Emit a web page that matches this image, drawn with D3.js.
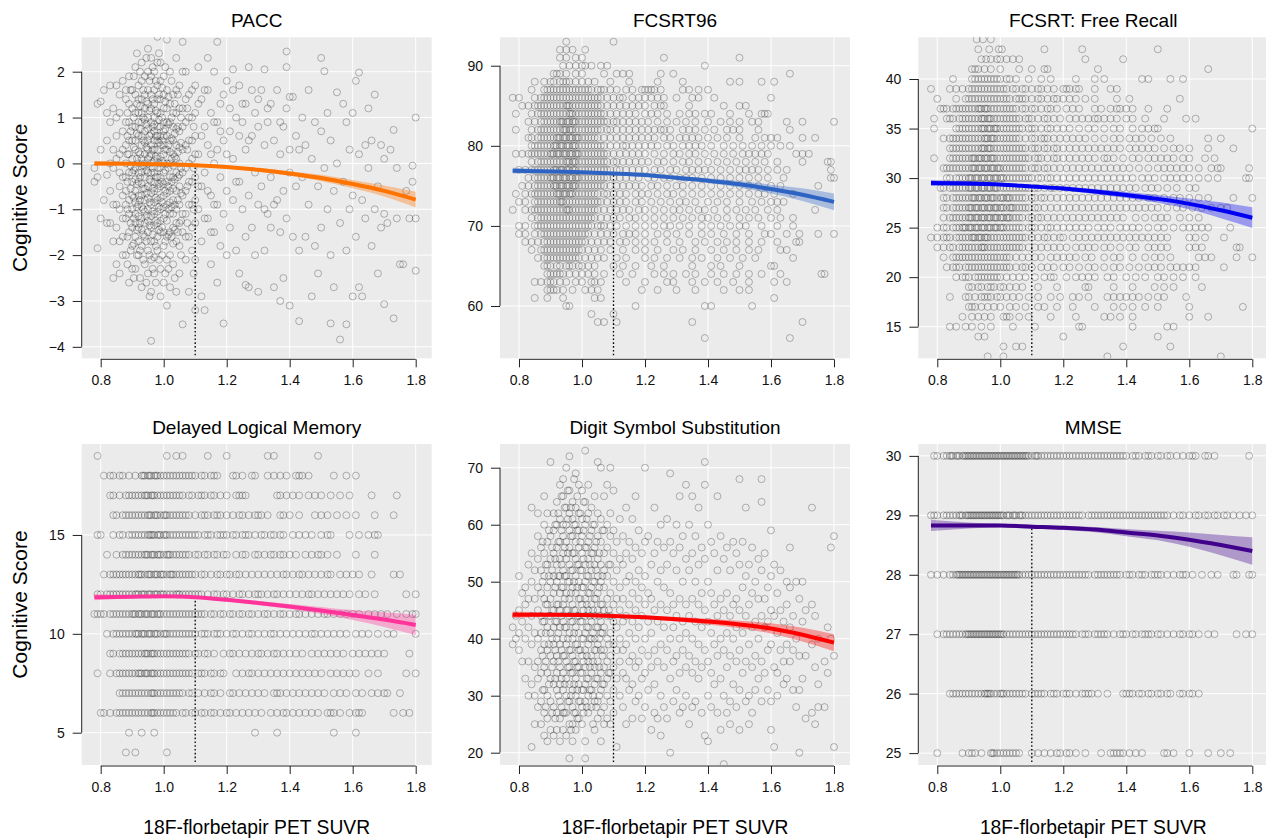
<!DOCTYPE html>
<html>
<head>
<meta charset="utf-8">
<script src="https://cdn.jsdelivr.net/npm/d3@7"></script>
<style>
  body { margin: 0; background: #fff; }
  svg { display: block; font-family: "Liberation Sans", Arial, sans-serif; }
</style>
</head>
<body>
<div id="chart"></div>
<script>
// shared x values
const xTicks = [0.8, 1.0, 1.2, 1.4, 1.6, 1.8];
const cutoff = 1.1;
const fitX = [0.78, 0.9, 1.0, 1.1, 1.2, 1.3, 1.4, 1.5, 1.6, 1.7, 1.8];

const titles = ["PACC", "FCSRT96", "FCSRT: Free Recall", "Delayed Logical Memory", "Digit Symbol Substitution", "MMSE"];

// ---- PACC: [SUVR, [scores]] ----
const paccPoints = [
  [0.78, [-0.4, -0.1]], [0.79, [1.3, -0.3, -1.85]], [0.80, [1.35, 0.3, -1.2]], [0.81, [1.6, -0.8]],
  [0.82, [0.5, -0.25, -1.3, 1.1]], [0.83, [0.9, -0.6, -1.3, 1.7, 0.0]], [0.84, [1.2, 0.3, -0.1, -1.7, -2.5, -0.9]],
  [0.85, [1.7, 0.6, -0.9, -2.2, -1.4, 0.1, 1.0]], [0.86, [1.1, 0.2, -0.5, -1.0, -2.4, 1.5, -0.2, -1.7]],
  [0.87, [1.8, 0.7, -0.3, -0.7, -1.6, 0.3, -1.2, -2.0]], [0.88, [1.4, 0.4, 0.0, -0.6, -1.2, -2.0, 0.9, -0.3, -0.9, 1.6]],
  [0.885, [1.1, 0.6, 0.2, -0.4, -1.0, -1.6, -2.2]],
  [0.89, [1.9, 0.9, -0.2, -0.8, -1.5, -2.6, 0.5, 0.2, -1.1, 1.3]],
  [0.895, [1.6, 0.7, -0.05, -0.55, -1.3, -1.9]],
  [0.90, [1.2, 0.5, 0.1, -0.4, -1.0, -1.8, 0.8, -0.2, -0.7, -1.4, 1.6, -2.3]],
  [0.905, [1.9, 1.0, 0.35, -0.15, -0.75, -1.2, -1.75, -2.5]],
  [0.91, [2.1, 1.5, 0.8, 0.3, -0.1, -0.6, -1.1, -1.6, -2.3, 1.1, 0.5, -0.35, -0.85, -1.3]],
  [0.915, [1.3, 0.65, 0.1, -0.45, -0.95, -1.45, -2.0, 2.4]],
  [0.92, [1.7, 1.1, 0.6, 0.0, -0.4, -0.9, -1.4, -2.0, 1.4, 0.25, -0.2, -0.7, -1.15, -1.7, 0.9]],
  [0.925, [2.0, 1.25, 0.75, 0.2, -0.3, -0.8, -1.3, -1.9, -2.5]],
  [0.93, [2.2, 1.4, 0.9, 0.4, -0.2, -0.7, -1.2, -1.8, -2.7, 1.1, 0.6, 0.1, -0.45, -0.95, -1.45, 1.8]],
  [0.935, [1.6, 1.0, 0.5, -0.05, -0.55, -1.0, -1.55, -2.1]],
  [0.94, [1.9, 1.2, 0.7, 0.2, -0.3, -0.8, -1.3, -2.2, 1.5, 0.95, 0.45, -0.05, -0.55, -1.05, -1.6, 0.0]],
  [0.945, [2.3, 1.35, 0.85, 0.35, -0.15, -0.65, -1.15, -1.7, -2.6]],
  [0.95, [2.5, 1.6, 1.0, 0.5, 0.1, -0.5, -1.0, -1.5, -1.9, 1.3, 0.75, 0.3, -0.2, -0.75, -1.25, -2.4, 2.0]],
  [0.955, [1.8, 1.15, 0.6, 0.15, -0.35, -0.85, -1.35, -2.0, -2.9]],
  [0.96, [2.3, 1.5, 0.9, 0.4, 0.0, -0.4, -0.9, -1.4, -2.1, -2.8, -3.87, 1.2, 0.65, 0.2, -0.2, -0.65, -1.15, -1.7, 1.9]],
  [0.965, [2.1, 1.4, 0.8, 0.3, -0.1, -0.55, -1.05, -1.55, -2.3]],
  [0.97, [2.0, 1.3, 0.7, 0.3, -0.2, -0.6, -1.1, -1.7, -2.4, 1.6, 1.0, 0.5, 0.05, -0.4, -0.85, -1.35, -2.05, 0.85]],
  [0.975, [1.8, 1.15, 0.6, 0.15, -0.3, -0.75, -1.25, -1.8, -2.6]],
  [0.98, [2.76, 1.7, 1.1, 0.5, 0.1, -0.3, -0.8, -1.3, -1.9, 1.4, 0.8, 0.3, -0.1, -0.55, -1.05, -1.6, 2.2, 0.6]],
  [0.985, [2.4, 1.5, 0.95, 0.45, 0.0, -0.45, -0.95, -1.45, -2.1]],
  [0.99, [2.2, 1.4, 0.8, 0.4, -0.1, -0.5, -1.0, -1.5, -2.3, -2.9, 1.1, 0.6, 0.15, -0.3, -0.75, -1.25, 1.8]],
  [0.995, [1.65, 1.0, 0.5, 0.05, -0.4, -0.85, -1.4, -2.0]],
  [1.00, [1.9, 1.2, 0.6, 0.2, -0.2, -0.7, -1.2, -1.8, -2.6, 1.5, 0.9, 0.4, 0.0, -0.45, -0.95, -1.5, 0.7]],
  [1.005, [2.1, 1.35, 0.75, 0.3, -0.15, -0.6, -1.1, -1.7, -2.4]],
  [1.01, [2.7, 1.6, 0.9, 0.3, -0.4, -0.9, -1.6, -3.1, 1.2, 0.6, 0.0, -0.65, -1.25, -2.1]],
  [1.015, [1.45, 0.85, 0.4, -0.1, -0.5, -1.0, -1.55, -2.3]],
  [1.02, [2.0, 1.3, 0.5, 0.0, -0.6, -1.1, -2.0, -2.7, 0.9, 0.25, -0.3, -0.85, -1.5]],
  [1.025, [1.8, 1.0, 0.55, 0.1, -0.4, -0.95, -1.6]],
  [1.03, [1.5, 0.8, 0.2, -0.3, -0.8, -1.4, -2.2, 1.1, 0.5, -0.05, -0.55, -1.1, -1.75]],
  [1.035, [1.3, 0.65, 0.15, -0.35, -0.9, -1.45, -2.5]],
  [1.04, [2.3, 1.1, 0.4, -0.2, -1.0, -1.7, -2.8, 0.75, 0.1, -0.6, -1.3, 1.6]],
  [1.045, [1.5, 0.8, 0.25, -0.3, -0.8, -1.5]],
  [1.05, [1.7, 0.7, 0.0, -0.5, -1.3, -2.4, 1.2, 0.35, -0.25, -0.9, -1.8]],
  [1.055, [1.0, 0.45, -0.1, -0.65, -1.25, -2.0]],
  [1.06, [2.65, 1.2, 0.3, -0.7, -1.5, -3.51, 0.8, -0.2, -1.1, 2.0]],
  [1.07, [2.0, 0.9, -0.1, -1.1, -2.1, 1.4, 0.4, -0.6, -1.6]], [1.075, [1.2, 0.3, -0.5, -1.3]],
  [1.08, [1.5, 0.5, -0.4, -1.6, -2.8, 1.0, 0.0, -0.9]],
  [1.09, [1.0, 0.1, -0.9, -1.9, 1.6, 0.5, -0.4, -1.4]], [1.095, [0.8, -0.1, -1.0, -2.4]],
  [1.10, [1.7, 0.6, -0.3, -1.3, -3.2, 1.1, 0.2, -0.8, -2.1]],
  [1.11, [2.1, 0.2, -1.0, 1.3, -0.5]], [1.12, [1.4, -0.5, -1.7, -2.9, 0.6]], [1.13, [0.8, -0.2, -3.2, 1.6, -1.2]],
  [1.14, [1.6, 0.4, -1.2, -0.6, 2.3]], [1.15, [1.1, -0.7, -2.2, 0.2, -1.5]], [1.16, [2.0, 0.0, -1.5, 0.9, -0.9]],
  [1.17, [2.65, 0.9, -0.9, -2.6, 0.3]], [1.18, [1.3, -0.3, -1.8, 0.7]], [1.19, [0.5, -1.1, -3.49, 1.5]],
  [1.20, [1.8, -0.6, -2.0, 0.2]], [1.21, [0.7, -1.4, 1.2]], [1.22, [1.6, 0.1, -0.8, 2.05]], [1.23, [1.0, -1.9, -0.4]],
  [1.24, [1.7, -0.4, -2.4, 0.6]], [1.25, [0.9, -1.0, 1.3]], [1.26, [1.3, 0.3, -1.6, -2.65]], [1.27, [2.1, -0.7, -2.7, 0.5]],
  [1.28, [0.6, -1.4, 1.6]], [1.29, [1.1, -0.2, -2.0]], [1.30, [0.8, -0.9, -2.8, 1.4]], [1.31, [1.6, -0.5]],
  [1.32, [2.05, 0.4, -1.9, -1.0]], [1.33, [0.9, -1.1, 1.2]], [1.34, [1.3, -0.3, -1.4]], [1.35, [0.5, -2.7, -0.9]],
  [1.36, [1.6, -0.8]], [1.37, [0.2, -1.5, -3.0, 0.9]], [1.38, [0.8, -0.6, -2.5]], [1.39, [2.44, 1.2, -1.2, 2.1]],
  [1.40, [0.3, -0.2, -3.1, 1.45]], [1.41, [1.45, -1.6]], [1.42, [0.6, -0.5]], [1.43, [-1.9, -3.44, 0.3]],
  [1.44, [1.0, -0.3]], [1.45, [0.4, -1.6]], [1.46, [1.6, -0.9]], [1.47, [0.1, -2.9]], [1.48, [0.9, -1.8]],
  [1.49, [-0.5, -2.4]], [1.50, [2.3, 0.7, -1.4]], [1.51, [2.01, -0.1]], [1.52, [1.1, -1.0]], [1.53, [0.5, -2.0, -3.49]],
  [1.54, [-0.6, -2.7]], [1.55, [1.55, 0.0]], [1.56, [-1.3, -3.84]], [1.57, [1.3, -0.4]], [1.58, [0.9, -1.9, -3.51]],
  [1.59, [0.3, -1.0]], [1.60, [1.1, -0.7, -2.9]], [1.61, [1.8, -1.6]], [1.62, [1.98, 0.2, -2.7]], [1.63, [-0.8, -2.9]],
  [1.64, [0.4, -1.2]], [1.65, [1.2, -0.1]], [1.66, [0.5, -1.8]], [1.67, [1.5, -1.0]], [1.68, [-0.5, -2.4]],
  [1.69, [0.4, -1.4]], [1.70, [0.1, -1.1, -3.07]], [1.71, [-1.3]], [1.72, [0.3]], [1.73, [0.73, -3.38]],
  [1.74, [-0.1, -1.2]], [1.75, [-2.2]], [1.76, [-2.2]], [1.77, [-0.6]], [1.78, [-1.2]], [1.79, [-0.05, -0.4]],
  [1.80, [1.0, -1.2, -2.34]]
];
const paccFit = [0.0, -0.01, -0.02, -0.04, -0.08, -0.14, -0.22, -0.32, -0.45, -0.6, -0.79];
const paccSe = [0.05, 0.03, 0.02, 0.03, 0.03, 0.04, 0.05, 0.07, 0.09, 0.12, 0.17];
const paccTicks = [-4, -3, -2, -1, 0, 1, 2];

// ---- FCSRT96: [score, [SUVRs]] ----
const fcsrt96Rows = [
  [93, [0.95, 1.1]], [92, [0.93, 0.95, 0.97, 1.01]], [91, [0.93, 0.95, 0.98, 1.0, 1.26, 1.5]],
  [90, [0.94, 0.96, 0.98, 1.0, 1.01, 1.03, 1.06, 1.08, 1.39]],
  [89, [0.91, 0.92, 0.93, 0.95, 0.98, 1.0, 1.07, 1.11, 1.13, 1.15, 1.25, 1.29, 1.66]],
  [88, [0.85, 0.88, 0.9, 0.91, 0.93, 0.94, 0.95, 0.96, 0.98, 1.0, 1.02, 1.04, 1.09, 1.15, 1.24, 1.32, 1.47, 1.5, 1.57, 1.61]],
  [87, [0.84, 0.88, 0.89, 0.9, 0.91, 0.92, 0.93, 0.94, 0.95, 0.96, 0.97, 0.98, 0.99, 1.0, 1.01, 1.02, 1.03, 1.05, 1.06, 1.07, 1.09, 1.11, 1.14, 1.16, 1.19, 1.2, 1.21, 1.22, 1.23, 1.25, 1.32, 1.34, 1.37, 1.4]],
  [86, [0.78, 0.8, 0.85, 0.87, 0.88, 0.89, 0.9, 0.91, 0.92, 0.93, 0.94, 0.95, 0.96, 0.97, 0.98, 0.99, 1.0, 1.01, 1.02, 1.03, 1.04, 1.05, 1.06, 1.08, 1.1, 1.12, 1.13, 1.16, 1.18, 1.2, 1.22, 1.24, 1.26, 1.3, 1.35, 1.37, 1.42, 1.6]],
  [85, [0.81, 0.83, 0.85, 0.86, 0.87, 0.88, 0.89, 0.9, 0.91, 0.92, 0.93, 0.94, 0.95, 0.955, 0.96, 0.97, 0.98, 0.99, 1.0, 1.01, 1.02, 1.03, 1.04, 1.05, 1.06, 1.08, 1.1, 1.12, 1.14, 1.16, 1.18, 1.2, 1.23, 1.25, 1.26, 1.34, 1.45, 1.5, 1.52]],
  [84, [0.79, 0.84, 0.86, 0.87, 0.88, 0.89, 0.9, 0.91, 0.92, 0.93, 0.94, 0.95, 0.96, 0.965, 0.97, 0.98, 0.99, 1.0, 1.01, 1.02, 1.03, 1.04, 1.05, 1.06, 1.07, 1.09, 1.11, 1.13, 1.15, 1.17, 1.2, 1.22, 1.24, 1.27, 1.31, 1.34, 1.36, 1.39, 1.41, 1.47, 1.53, 1.57, 1.58, 1.59]],
  [83, [0.83, 0.85, 0.87, 0.88, 0.89, 0.9, 0.91, 0.92, 0.93, 0.935, 0.94, 0.95, 0.955, 0.96, 0.97, 0.975, 0.98, 0.99, 1.0, 1.01, 1.02, 1.03, 1.04, 1.05, 1.06, 1.07, 1.08, 1.1, 1.11, 1.13, 1.15, 1.17, 1.19, 1.21, 1.24, 1.27, 1.3, 1.33, 1.36, 1.4, 1.44, 1.47, 1.5, 1.54, 1.56, 1.65, 1.7, 1.8]],
  [82, [0.79, 0.84, 0.86, 0.87, 0.88, 0.89, 0.9, 0.91, 0.92, 0.93, 0.94, 0.945, 0.95, 0.96, 0.965, 0.97, 0.98, 0.99, 1.0, 1.01, 1.02, 1.03, 1.04, 1.05, 1.06, 1.08, 1.09, 1.11, 1.13, 1.15, 1.17, 1.19, 1.21, 1.23, 1.25, 1.26, 1.28, 1.32, 1.34, 1.36, 1.39, 1.42, 1.46, 1.48, 1.5, 1.56, 1.66]],
  [81, [0.83, 0.84, 0.86, 0.87, 0.88, 0.89, 0.9, 0.91, 0.92, 0.925, 0.93, 0.94, 0.945, 0.95, 0.96, 0.965, 0.97, 0.98, 0.985, 0.99, 1.0, 1.01, 1.02, 1.03, 1.04, 1.05, 1.07, 1.09, 1.11, 1.13, 1.15, 1.17, 1.19, 1.21, 1.23, 1.26, 1.28, 1.31, 1.33, 1.35, 1.37, 1.4, 1.43, 1.46, 1.5, 1.55, 1.58, 1.6, 1.62, 1.7, 1.74]],
  [80, [0.84, 0.85, 0.86, 0.87, 0.88, 0.89, 0.9, 0.91, 0.915, 0.92, 0.93, 0.935, 0.94, 0.95, 0.955, 0.96, 0.97, 0.975, 0.98, 0.99, 1.0, 1.01, 1.02, 1.03, 1.04, 1.05, 1.06, 1.07, 1.09, 1.11, 1.13, 1.14, 1.16, 1.18, 1.2, 1.22, 1.24, 1.27, 1.29, 1.32, 1.34, 1.36, 1.38, 1.41, 1.45, 1.48, 1.51, 1.54, 1.57, 1.6, 1.63, 1.66]],
  [79, [0.79, 0.81, 0.83, 0.84, 0.85, 0.86, 0.87, 0.88, 0.89, 0.9, 0.905, 0.91, 0.92, 0.925, 0.93, 0.94, 0.945, 0.95, 0.96, 0.965, 0.97, 0.98, 0.985, 0.99, 1.0, 1.01, 1.02, 1.03, 1.04, 1.05, 1.06, 1.07, 1.08, 1.1, 1.12, 1.14, 1.16, 1.18, 1.2, 1.23, 1.26, 1.29, 1.31, 1.34, 1.36, 1.39, 1.42, 1.45, 1.48, 1.51, 1.53, 1.55, 1.57, 1.59, 1.68, 1.7, 1.72]],
  [78, [0.84, 0.86, 0.87, 0.88, 0.89, 0.9, 0.91, 0.92, 0.93, 0.94, 0.95, 0.955, 0.96, 0.97, 0.975, 0.98, 0.99, 1.0, 1.01, 1.02, 1.03, 1.04, 1.05, 1.06, 1.07, 1.08, 1.1, 1.11, 1.13, 1.15, 1.17, 1.19, 1.21, 1.24, 1.26, 1.29, 1.32, 1.34, 1.37, 1.4, 1.43, 1.46, 1.49, 1.52, 1.55, 1.58, 1.62, 1.7, 1.78, 1.79]],
  [77, [0.8, 0.82, 0.84, 0.85, 0.86, 0.87, 0.88, 0.89, 0.9, 0.91, 0.915, 0.92, 0.93, 0.935, 0.94, 0.95, 0.955, 0.96, 0.97, 0.975, 0.98, 0.99, 1.0, 1.01, 1.02, 1.03, 1.04, 1.05, 1.06, 1.07, 1.08, 1.09, 1.11, 1.12, 1.14, 1.16, 1.18, 1.2, 1.23, 1.25, 1.28, 1.3, 1.33, 1.35, 1.37, 1.39, 1.41, 1.44, 1.47, 1.5, 1.52, 1.54, 1.56, 1.59, 1.62, 1.65, 1.79]],
  [76, [0.83, 0.85, 0.86, 0.87, 0.88, 0.89, 0.9, 0.905, 0.91, 0.92, 0.925, 0.93, 0.94, 0.945, 0.95, 0.96, 0.965, 0.97, 0.98, 0.985, 0.99, 1.0, 1.01, 1.02, 1.03, 1.04, 1.05, 1.06, 1.07, 1.08, 1.1, 1.12, 1.14, 1.16, 1.18, 1.21, 1.23, 1.26, 1.28, 1.31, 1.33, 1.35, 1.38, 1.41, 1.44, 1.47, 1.5, 1.53, 1.56, 1.59, 1.64, 1.79, 1.8]],
  [75, [0.81, 0.83, 0.85, 0.86, 0.87, 0.88, 0.89, 0.9, 0.91, 0.915, 0.92, 0.93, 0.935, 0.94, 0.95, 0.955, 0.96, 0.97, 0.975, 0.98, 0.99, 1.0, 1.01, 1.02, 1.03, 1.04, 1.05, 1.06, 1.07, 1.09, 1.11, 1.13, 1.15, 1.17, 1.19, 1.22, 1.24, 1.27, 1.3, 1.32, 1.35, 1.38, 1.41, 1.44, 1.47, 1.5, 1.53, 1.56, 1.6, 1.63, 1.75]],
  [74, [0.79, 0.82, 0.84, 0.85, 0.86, 0.87, 0.88, 0.89, 0.9, 0.91, 0.92, 0.925, 0.93, 0.94, 0.945, 0.95, 0.96, 0.965, 0.97, 0.98, 0.99, 1.0, 1.01, 1.02, 1.03, 1.04, 1.05, 1.07, 1.08, 1.1, 1.12, 1.14, 1.17, 1.19, 1.21, 1.24, 1.27, 1.29, 1.32, 1.35, 1.38, 1.41, 1.44, 1.47, 1.5, 1.53, 1.56, 1.58, 1.61, 1.67]],
  [73, [0.8, 0.82, 0.85, 0.86, 0.87, 0.88, 0.89, 0.9, 0.91, 0.92, 0.93, 0.935, 0.94, 0.95, 0.96, 0.97, 0.98, 0.99, 1.0, 1.01, 1.02, 1.03, 1.04, 1.05, 1.06, 1.08, 1.1, 1.12, 1.14, 1.17, 1.19, 1.22, 1.25, 1.28, 1.31, 1.33, 1.36, 1.4, 1.43, 1.46, 1.5, 1.54, 1.57, 1.6, 1.62, 1.64]],
  [72, [0.78, 0.82, 0.84, 0.85, 0.86, 0.87, 0.88, 0.89, 0.9, 0.91, 0.92, 0.93, 0.94, 0.95, 0.955, 0.96, 0.97, 0.98, 0.99, 1.0, 1.01, 1.02, 1.03, 1.04, 1.05, 1.07, 1.09, 1.11, 1.13, 1.15, 1.18, 1.2, 1.23, 1.26, 1.29, 1.31, 1.34, 1.37, 1.39, 1.42, 1.46, 1.49, 1.52, 1.55, 1.59, 1.62, 1.74]],
  [71, [0.84, 0.86, 0.87, 0.88, 0.89, 0.9, 0.91, 0.92, 0.93, 0.94, 0.95, 0.96, 0.97, 0.98, 0.99, 1.0, 1.01, 1.02, 1.03, 1.04, 1.06, 1.08, 1.1, 1.12, 1.15, 1.17, 1.2, 1.23, 1.26, 1.29, 1.32, 1.35, 1.38, 1.4, 1.43, 1.46, 1.5, 1.53, 1.56, 1.6, 1.63, 1.67]],
  [70, [0.8, 0.82, 0.85, 0.86, 0.87, 0.88, 0.89, 0.9, 0.91, 0.92, 0.93, 0.94, 0.95, 0.96, 0.97, 0.98, 0.99, 1.0, 1.01, 1.02, 1.03, 1.05, 1.06, 1.07, 1.09, 1.11, 1.14, 1.17, 1.2, 1.23, 1.26, 1.28, 1.31, 1.34, 1.38, 1.41, 1.44, 1.47, 1.5, 1.52, 1.57, 1.62, 1.67]],
  [69, [0.8, 0.82, 0.85, 0.87, 0.88, 0.89, 0.9, 0.91, 0.92, 0.93, 0.94, 0.95, 0.96, 0.97, 0.98, 0.99, 1.0, 1.01, 1.02, 1.04, 1.06, 1.08, 1.1, 1.13, 1.15, 1.17, 1.2, 1.24, 1.27, 1.3, 1.34, 1.38, 1.41, 1.45, 1.49, 1.53, 1.58, 1.6, 1.65, 1.69, 1.75, 1.8]],
  [68, [0.82, 0.84, 0.86, 0.88, 0.89, 0.9, 0.91, 0.92, 0.93, 0.94, 0.95, 0.96, 0.97, 0.98, 0.99, 1.0, 1.01, 1.03, 1.05, 1.07, 1.09, 1.12, 1.14, 1.17, 1.2, 1.23, 1.27, 1.31, 1.36, 1.39, 1.43, 1.46, 1.49, 1.53, 1.57, 1.62, 1.68, 1.69]],
  [67, [0.84, 0.87, 0.88, 0.89, 0.9, 0.91, 0.92, 0.93, 0.94, 0.95, 0.96, 0.97, 0.98, 0.99, 1.0, 1.02, 1.04, 1.06, 1.09, 1.13, 1.17, 1.2, 1.24, 1.29, 1.32, 1.36, 1.41, 1.45, 1.49, 1.53, 1.56, 1.63, 1.65]],
  [66, [0.86, 0.88, 0.89, 0.9, 0.91, 0.92, 0.93, 0.94, 0.95, 0.96, 0.97, 0.98, 0.99, 1.01, 1.03, 1.05, 1.07, 1.11, 1.14, 1.2, 1.23, 1.27, 1.31, 1.35, 1.38, 1.43, 1.47, 1.51, 1.55, 1.67]],
  [65, [0.88, 0.89, 0.9, 0.92, 0.93, 0.95, 0.96, 0.97, 0.99, 1.0, 1.02, 1.04, 1.1, 1.13, 1.17, 1.22, 1.26, 1.35, 1.41, 1.44, 1.5, 1.6, 1.61]],
  [64, [0.89, 0.9, 0.91, 0.92, 0.93, 0.94, 0.96, 0.98, 1.0, 1.02, 1.04, 1.07, 1.12, 1.16, 1.23, 1.26, 1.29, 1.33, 1.36, 1.41, 1.45, 1.49, 1.53, 1.57, 1.63, 1.76, 1.77]],
  [63, [0.85, 0.87, 0.89, 0.9, 0.91, 0.93, 0.95, 0.98, 1.0, 1.03, 1.04, 1.06, 1.14, 1.2, 1.27, 1.29, 1.35, 1.39, 1.43, 1.48, 1.53, 1.61, 1.65]],
  [62, [0.89, 0.9, 0.91, 0.92, 0.94, 0.97, 1.01, 1.03, 1.05, 1.19, 1.24, 1.3, 1.36, 1.45, 1.5, 1.53]],
  [61, [0.85, 0.89, 0.94, 1.04, 1.06, 1.61]], [60, [0.95, 0.96, 1.17, 1.39, 1.41, 1.54]], [59, [1.03, 1.1]],
  [58, [1.05, 1.07, 1.11, 1.35, 1.7]], [56, [1.39, 1.66]]
];
const fcsrt96Fit = [76.9, 76.8, 76.7, 76.55, 76.35, 76.0, 75.65, 75.2, 74.6, 73.9, 73.0];
const fcsrt96Se = [0.35, 0.2, 0.15, 0.15, 0.2, 0.25, 0.3, 0.4, 0.55, 0.8, 1.05];
const fcsrt96Ticks = [60, 70, 80, 90];

// ---- FCSRT Free Recall: [score, [SUVRs]] ----
const freeRecallRows = [
  [44, [0.925, 0.945, 0.97]], [43, [0.93, 0.965, 0.995, 1.005, 1.14, 1.26, 1.5]],
  [42, [0.94, 0.955, 0.97, 0.99, 1.0, 1.02, 1.04, 1.06, 1.27, 1.39]],
  [41, [0.91, 0.92, 0.93, 0.95, 0.97, 1.0, 1.06, 1.1, 1.14, 1.15, 1.31, 1.66]],
  [40, [0.85, 0.91, 0.92, 0.93, 0.94, 0.95, 0.96, 0.97, 0.98, 0.99, 1.0, 1.02, 1.03, 1.05, 1.09, 1.13, 1.16, 1.24, 1.3, 1.33, 1.45, 1.47, 1.54, 1.58]],
  [39, [0.78, 0.84, 0.86, 0.88, 0.9, 0.91, 0.92, 0.93, 0.94, 0.95, 0.96, 0.97, 0.98, 0.99, 1.0, 1.01, 1.02, 1.04, 1.05, 1.07, 1.08, 1.1, 1.12, 1.13, 1.15, 1.17, 1.2, 1.21, 1.22, 1.24, 1.25, 1.3, 1.35, 1.37]],
  [38, [0.8, 0.86, 0.89, 0.9, 0.91, 0.92, 0.93, 0.94, 0.95, 0.96, 0.97, 0.98, 0.99, 1.0, 1.01, 1.02, 1.03, 1.05, 1.06, 1.07, 1.08, 1.1, 1.12, 1.13, 1.15, 1.17, 1.18, 1.2, 1.22, 1.24, 1.27, 1.3, 1.37, 1.41, 1.57]],
  [37, [0.81, 0.82, 0.83, 0.85, 0.86, 0.87, 0.88, 0.89, 0.9, 0.91, 0.92, 0.93, 0.935, 0.94, 0.95, 0.955, 0.96, 0.97, 0.98, 0.99, 1.0, 1.01, 1.02, 1.03, 1.04, 1.05, 1.07, 1.08, 1.1, 1.11, 1.13, 1.15, 1.16, 1.18, 1.21, 1.23, 1.25, 1.3, 1.32, 1.35, 1.37, 1.38, 1.4, 1.42, 1.47, 1.53]],
  [36, [0.79, 0.83, 0.84, 0.85, 0.87, 0.88, 0.89, 0.9, 0.91, 0.92, 0.93, 0.94, 0.945, 0.95, 0.96, 0.965, 0.97, 0.98, 0.99, 1.0, 1.01, 1.02, 1.03, 1.04, 1.05, 1.06, 1.08, 1.09, 1.1, 1.12, 1.14, 1.15, 1.17, 1.19, 1.22, 1.24, 1.26, 1.28, 1.3, 1.31, 1.33, 1.35, 1.37, 1.4, 1.42, 1.46, 1.52, 1.59, 1.62]],
  [35, [0.79, 0.86, 0.87, 0.88, 0.89, 0.9, 0.91, 0.92, 0.93, 0.94, 0.945, 0.95, 0.96, 0.965, 0.97, 0.98, 0.985, 0.99, 1.0, 1.01, 1.02, 1.03, 1.04, 1.05, 1.06, 1.07, 1.09, 1.1, 1.11, 1.13, 1.15, 1.16, 1.18, 1.2, 1.22, 1.25, 1.28, 1.3, 1.33, 1.36, 1.38, 1.42, 1.45, 1.47, 1.49, 1.5, 1.8]],
  [34, [0.82, 0.84, 0.85, 0.86, 0.87, 0.88, 0.89, 0.9, 0.91, 0.92, 0.93, 0.94, 0.95, 0.955, 0.96, 0.97, 0.975, 0.98, 0.99, 1.0, 1.01, 1.02, 1.03, 1.04, 1.05, 1.06, 1.08, 1.1, 1.11, 1.13, 1.14, 1.15, 1.17, 1.19, 1.21, 1.23, 1.25, 1.27, 1.3, 1.33, 1.36, 1.38, 1.41, 1.43, 1.45, 1.48, 1.51, 1.54, 1.66, 1.7]],
  [33, [0.84, 0.85, 0.86, 0.87, 0.88, 0.89, 0.9, 0.91, 0.92, 0.93, 0.94, 0.945, 0.95, 0.96, 0.965, 0.97, 0.98, 0.99, 1.0, 1.01, 1.02, 1.03, 1.04, 1.05, 1.06, 1.07, 1.08, 1.1, 1.11, 1.12, 1.14, 1.15, 1.17, 1.18, 1.2, 1.22, 1.24, 1.26, 1.28, 1.3, 1.32, 1.34, 1.36, 1.38, 1.41, 1.43, 1.45, 1.47, 1.49, 1.52, 1.55, 1.57, 1.6, 1.66, 1.74]],
  [32, [0.79, 0.84, 0.85, 0.86, 0.87, 0.88, 0.89, 0.9, 0.91, 0.915, 0.92, 0.93, 0.935, 0.94, 0.95, 0.955, 0.96, 0.97, 0.975, 0.98, 0.99, 1.0, 1.01, 1.02, 1.03, 1.04, 1.05, 1.06, 1.07, 1.08, 1.09, 1.11, 1.12, 1.13, 1.15, 1.17, 1.18, 1.2, 1.22, 1.24, 1.26, 1.28, 1.3, 1.33, 1.34, 1.36, 1.39, 1.42, 1.44, 1.47, 1.49, 1.51, 1.53, 1.55, 1.58, 1.6, 1.65, 1.68]],
  [31, [0.82, 0.83, 0.84, 0.85, 0.86, 0.87, 0.88, 0.89, 0.9, 0.91, 0.915, 0.92, 0.93, 0.935, 0.94, 0.95, 0.955, 0.96, 0.97, 0.975, 0.98, 0.99, 0.995, 1.0, 1.01, 1.02, 1.03, 1.04, 1.05, 1.06, 1.07, 1.08, 1.1, 1.11, 1.12, 1.14, 1.15, 1.17, 1.19, 1.21, 1.23, 1.25, 1.27, 1.29, 1.31, 1.33, 1.35, 1.37, 1.39, 1.41, 1.44, 1.47, 1.5, 1.52, 1.54, 1.56, 1.58, 1.6, 1.63, 1.67, 1.69, 1.7, 1.79]],
  [30, [0.83, 0.84, 0.86, 0.87, 0.88, 0.89, 0.9, 0.905, 0.91, 0.92, 0.925, 0.93, 0.94, 0.945, 0.95, 0.96, 0.965, 0.97, 0.98, 0.985, 0.99, 1.0, 1.005, 1.01, 1.02, 1.03, 1.04, 1.05, 1.06, 1.07, 1.08, 1.09, 1.1, 1.12, 1.13, 1.15, 1.16, 1.18, 1.2, 1.22, 1.24, 1.26, 1.28, 1.3, 1.32, 1.34, 1.36, 1.38, 1.4, 1.42, 1.45, 1.47, 1.49, 1.52, 1.54, 1.56, 1.58, 1.6, 1.63, 1.66, 1.69, 1.78, 1.79]],
  [29, [0.81, 0.82, 0.84, 0.85, 0.86, 0.87, 0.88, 0.89, 0.9, 0.905, 0.91, 0.92, 0.925, 0.93, 0.94, 0.945, 0.95, 0.96, 0.965, 0.97, 0.98, 0.985, 0.99, 1.0, 1.01, 1.02, 1.03, 1.04, 1.05, 1.06, 1.07, 1.08, 1.09, 1.11, 1.12, 1.14, 1.16, 1.17, 1.19, 1.21, 1.23, 1.25, 1.27, 1.29, 1.31, 1.33, 1.35, 1.37, 1.39, 1.41, 1.43, 1.46, 1.48, 1.5, 1.53, 1.56, 1.6, 1.62]],
  [28, [0.82, 0.83, 0.85, 0.86, 0.87, 0.88, 0.89, 0.9, 0.91, 0.915, 0.92, 0.93, 0.935, 0.94, 0.95, 0.955, 0.96, 0.97, 0.975, 0.98, 0.99, 1.0, 1.005, 1.01, 1.02, 1.025, 1.03, 1.04, 1.05, 1.06, 1.07, 1.08, 1.1, 1.11, 1.13, 1.14, 1.16, 1.18, 1.2, 1.22, 1.24, 1.26, 1.28, 1.3, 1.32, 1.34, 1.36, 1.38, 1.4, 1.42, 1.44, 1.47, 1.49, 1.52, 1.55, 1.57, 1.6, 1.63, 1.66, 1.74, 1.8]],
  [27, [0.82, 0.83, 0.85, 0.86, 0.87, 0.88, 0.89, 0.9, 0.905, 0.91, 0.92, 0.925, 0.93, 0.94, 0.945, 0.95, 0.96, 0.965, 0.97, 0.98, 0.985, 0.99, 1.0, 1.005, 1.01, 1.02, 1.03, 1.035, 1.04, 1.05, 1.06, 1.07, 1.08, 1.09, 1.11, 1.12, 1.14, 1.16, 1.18, 1.2, 1.22, 1.24, 1.26, 1.28, 1.3, 1.32, 1.34, 1.36, 1.38, 1.4, 1.42, 1.44, 1.46, 1.48, 1.5, 1.53, 1.56, 1.58, 1.61, 1.64, 1.67, 1.7, 1.72]],
  [26, [0.82, 0.84, 0.85, 0.86, 0.87, 0.88, 0.89, 0.9, 0.905, 0.91, 0.92, 0.925, 0.93, 0.94, 0.945, 0.95, 0.96, 0.965, 0.97, 0.98, 0.985, 0.99, 1.0, 1.005, 1.01, 1.02, 1.025, 1.03, 1.04, 1.05, 1.06, 1.07, 1.09, 1.1, 1.12, 1.13, 1.15, 1.17, 1.19, 1.21, 1.23, 1.25, 1.27, 1.29, 1.31, 1.33, 1.35, 1.37, 1.39, 1.43, 1.46, 1.49, 1.51, 1.53, 1.57, 1.6, 1.63]],
  [25, [0.8, 0.82, 0.83, 0.85, 0.86, 0.87, 0.88, 0.885, 0.89, 0.9, 0.905, 0.91, 0.92, 0.925, 0.93, 0.94, 0.945, 0.95, 0.96, 0.965, 0.97, 0.98, 0.985, 0.99, 1.0, 1.005, 1.01, 1.02, 1.03, 1.04, 1.05, 1.06, 1.07, 1.09, 1.1, 1.11, 1.13, 1.15, 1.16, 1.18, 1.2, 1.22, 1.24, 1.26, 1.28, 1.31, 1.33, 1.35, 1.38, 1.4, 1.42, 1.44, 1.47, 1.5, 1.52, 1.55, 1.58, 1.6, 1.62, 1.64, 1.66, 1.73]],
  [24, [0.78, 0.8, 0.82, 0.83, 0.84, 0.86, 0.87, 0.88, 0.89, 0.9, 0.91, 0.915, 0.92, 0.93, 0.935, 0.94, 0.95, 0.955, 0.96, 0.97, 0.98, 0.99, 1.0, 1.01, 1.02, 1.03, 1.04, 1.05, 1.06, 1.07, 1.08, 1.1, 1.12, 1.14, 1.15, 1.17, 1.19, 1.2, 1.23, 1.25, 1.27, 1.29, 1.31, 1.33, 1.35, 1.37, 1.39, 1.41, 1.43, 1.45, 1.47, 1.49, 1.51, 1.53, 1.6, 1.62, 1.65, 1.71]],
  [23, [0.8, 0.82, 0.84, 0.85, 0.87, 0.88, 0.89, 0.9, 0.91, 0.92, 0.93, 0.94, 0.945, 0.95, 0.96, 0.97, 0.98, 0.99, 1.0, 1.01, 1.02, 1.03, 1.04, 1.05, 1.06, 1.07, 1.09, 1.11, 1.13, 1.15, 1.17, 1.19, 1.21, 1.24, 1.26, 1.28, 1.3, 1.33, 1.35, 1.38, 1.41, 1.43, 1.47, 1.49, 1.51, 1.53, 1.6, 1.62, 1.64, 1.75, 1.76]],
  [22, [0.82, 0.85, 0.86, 0.87, 0.88, 0.89, 0.9, 0.91, 0.92, 0.93, 0.94, 0.95, 0.96, 0.97, 0.98, 0.99, 1.0, 1.01, 1.02, 1.03, 1.05, 1.07, 1.09, 1.11, 1.13, 1.16, 1.18, 1.2, 1.22, 1.24, 1.27, 1.29, 1.33, 1.36, 1.38, 1.42, 1.46, 1.49, 1.51, 1.54, 1.63, 1.65, 1.67, 1.75, 1.8]],
  [21, [0.83, 0.85, 0.86, 0.87, 0.89, 0.9, 0.91, 0.92, 0.93, 0.94, 0.95, 0.96, 0.97, 0.98, 0.99, 1.0, 1.01, 1.02, 1.03, 1.05, 1.07, 1.08, 1.1, 1.13, 1.15, 1.17, 1.2, 1.22, 1.25, 1.28, 1.3, 1.33, 1.36, 1.38, 1.41, 1.44, 1.47, 1.49, 1.51, 1.54, 1.56, 1.58, 1.6, 1.62, 1.71]],
  [20, [0.86, 0.88, 0.89, 0.9, 0.92, 0.93, 0.94, 0.95, 0.96, 0.97, 0.98, 0.99, 1.0, 1.02, 1.04, 1.06, 1.08, 1.11, 1.14, 1.16, 1.17, 1.21, 1.24, 1.26, 1.28, 1.3, 1.34, 1.36, 1.4, 1.43, 1.46, 1.5, 1.52, 1.55, 1.58, 1.62]],
  [19, [0.9, 0.91, 0.93, 0.94, 0.96, 0.97, 0.98, 1.0, 1.01, 1.03, 1.05, 1.07, 1.12, 1.18, 1.27, 1.28, 1.36, 1.42, 1.49, 1.52, 1.55, 1.64]],
  [18, [0.84, 0.89, 0.9, 0.92, 0.94, 0.95, 0.96, 0.97, 0.99, 1.0, 1.02, 1.04, 1.06, 1.09, 1.12, 1.16, 1.19, 1.23, 1.25, 1.28, 1.34, 1.36, 1.38, 1.4, 1.42, 1.44, 1.47, 1.5, 1.52, 1.59]],
  [17, [0.9, 0.91, 0.92, 0.94, 0.96, 0.98, 1.0, 1.03, 1.05, 1.08, 1.12, 1.14, 1.18, 1.23, 1.3, 1.36, 1.39, 1.42, 1.46, 1.5, 1.6, 1.77]],
  [16, [0.88, 0.91, 0.93, 0.95, 0.97, 1.01, 1.02, 1.03, 1.06, 1.09, 1.16, 1.24, 1.33, 1.35, 1.38, 1.42, 1.6, 1.66]],
  [15, [0.84, 0.86, 0.89, 0.91, 0.94, 0.97, 1.04, 1.11, 1.25, 1.26, 1.42, 1.53, 1.55]],
  [14, [0.93, 0.95, 1.2, 1.5]], [13, [1.01, 1.05, 1.07, 1.39, 1.54]], [12, [0.96, 1.01, 1.34, 1.7]]
];
const freeRecallFit = [29.5, 29.45, 29.35, 29.15, 28.95, 28.65, 28.3, 27.9, 27.4, 26.75, 26.0];
const freeRecallSe = [0.3, 0.2, 0.15, 0.15, 0.2, 0.25, 0.3, 0.4, 0.55, 0.8, 1.05];
const freeRecallTicks = [15, 20, 25, 30, 35, 40];

// ---- Delayed Logical Memory: [score, [SUVRs]] ----
const dlmRows = [
  [19, [0.79, 1.01, 1.04, 1.06, 1.14, 1.2, 1.33, 1.35, 1.49]],
  [18, [0.81, 0.83, 0.84, 0.86, 0.87, 0.89, 0.91, 0.93, 0.935, 0.94, 0.95, 0.955, 0.96, 0.97, 0.975, 0.98, 0.99, 1.0, 1.01, 1.02, 1.03, 1.04, 1.05, 1.06, 1.07, 1.08, 1.09, 1.1, 1.12, 1.13, 1.15, 1.16, 1.17, 1.22, 1.23, 1.25, 1.28, 1.29, 1.33, 1.35, 1.37, 1.39, 1.42, 1.43, 1.44, 1.46, 1.54, 1.58, 1.61]],
  [17, [0.83, 0.84, 0.86, 0.88, 0.89, 0.9, 0.91, 0.92, 0.93, 0.94, 0.945, 0.95, 0.96, 0.965, 0.97, 0.98, 0.99, 1.0, 1.01, 1.02, 1.03, 1.04, 1.05, 1.06, 1.08, 1.09, 1.11, 1.12, 1.13, 1.15, 1.16, 1.18, 1.2, 1.23, 1.24, 1.25, 1.26, 1.36, 1.37, 1.39, 1.41, 1.43, 1.46, 1.48, 1.5, 1.53, 1.56, 1.59, 1.66, 1.74]],
  [16, [0.84, 0.85, 0.87, 0.88, 0.89, 0.9, 0.91, 0.92, 0.93, 0.94, 0.95, 0.955, 0.96, 0.97, 0.975, 0.98, 0.99, 1.0, 1.005, 1.01, 1.02, 1.03, 1.04, 1.05, 1.06, 1.07, 1.08, 1.1, 1.12, 1.13, 1.14, 1.16, 1.17, 1.18, 1.2, 1.22, 1.24, 1.25, 1.27, 1.29, 1.3, 1.31, 1.33, 1.37, 1.38, 1.4, 1.43, 1.48, 1.5, 1.52, 1.55, 1.58, 1.61, 1.67, 1.73]],
  [15, [0.79, 0.8, 0.84, 0.86, 0.87, 0.89, 0.9, 0.91, 0.92, 0.93, 0.94, 0.95, 0.955, 0.96, 0.965, 0.97, 0.98, 0.985, 0.99, 1.0, 1.005, 1.01, 1.02, 1.03, 1.04, 1.05, 1.06, 1.07, 1.08, 1.09, 1.1, 1.11, 1.13, 1.14, 1.15, 1.17, 1.18, 1.19, 1.2, 1.22, 1.23, 1.25, 1.26, 1.27, 1.29, 1.31, 1.32, 1.34, 1.35, 1.37, 1.38, 1.41, 1.43, 1.45, 1.47, 1.5, 1.52, 1.53, 1.59, 1.62, 1.65, 1.67, 1.68]],
  [14, [0.82, 0.85, 0.87, 0.88, 0.89, 0.9, 0.91, 0.92, 0.93, 0.94, 0.945, 0.95, 0.96, 0.965, 0.97, 0.98, 0.985, 0.99, 1.0, 1.01, 1.015, 1.02, 1.03, 1.04, 1.05, 1.06, 1.07, 1.08, 1.1, 1.11, 1.13, 1.14, 1.16, 1.17, 1.19, 1.2, 1.23, 1.25, 1.26, 1.29, 1.3, 1.32, 1.34, 1.35, 1.37, 1.38, 1.4, 1.42, 1.45, 1.47, 1.49, 1.5, 1.52, 1.55, 1.61, 1.67]],
  [13, [0.81, 0.83, 0.84, 0.85, 0.86, 0.87, 0.88, 0.89, 0.9, 0.91, 0.92, 0.925, 0.93, 0.94, 0.95, 0.955, 0.96, 0.97, 0.975, 0.98, 0.99, 0.995, 1.0, 1.01, 1.02, 1.025, 1.03, 1.04, 1.05, 1.06, 1.07, 1.08, 1.09, 1.1, 1.12, 1.13, 1.15, 1.17, 1.18, 1.2, 1.21, 1.23, 1.24, 1.26, 1.28, 1.3, 1.32, 1.34, 1.36, 1.38, 1.39, 1.41, 1.43, 1.44, 1.46, 1.48, 1.5, 1.52, 1.53, 1.56, 1.58, 1.6, 1.62, 1.66, 1.73, 1.75]],
  [12, [0.79, 0.8, 0.82, 0.83, 0.84, 0.85, 0.86, 0.87, 0.88, 0.89, 0.9, 0.91, 0.915, 0.92, 0.93, 0.935, 0.94, 0.95, 0.955, 0.96, 0.97, 0.975, 0.98, 0.99, 0.995, 1.0, 1.01, 1.02, 1.03, 1.04, 1.045, 1.05, 1.06, 1.07, 1.08, 1.09, 1.1, 1.11, 1.12, 1.14, 1.16, 1.17, 1.19, 1.2, 1.22, 1.24, 1.25, 1.27, 1.29, 1.3, 1.31, 1.33, 1.35, 1.36, 1.38, 1.4, 1.42, 1.44, 1.46, 1.47, 1.49, 1.51, 1.53, 1.55, 1.57, 1.59, 1.62, 1.64, 1.67, 1.77, 1.8]],
  [11, [0.78, 0.79, 0.8, 0.81, 0.83, 0.84, 0.85, 0.86, 0.87, 0.88, 0.89, 0.9, 0.905, 0.91, 0.92, 0.925, 0.93, 0.94, 0.945, 0.95, 0.96, 0.965, 0.97, 0.98, 0.985, 0.99, 1.0, 1.01, 1.02, 1.03, 1.04, 1.05, 1.06, 1.07, 1.08, 1.09, 1.1, 1.11, 1.12, 1.13, 1.15, 1.16, 1.18, 1.19, 1.21, 1.22, 1.24, 1.25, 1.27, 1.28, 1.3, 1.32, 1.33, 1.35, 1.37, 1.38, 1.4, 1.42, 1.43, 1.45, 1.47, 1.49, 1.51, 1.52, 1.54, 1.56, 1.58, 1.6, 1.62, 1.65, 1.67, 1.69, 1.71, 1.74, 1.77, 1.79, 1.8]],
  [10, [0.82, 0.84, 0.85, 0.86, 0.87, 0.88, 0.89, 0.9, 0.91, 0.915, 0.92, 0.93, 0.935, 0.94, 0.95, 0.955, 0.96, 0.97, 0.975, 0.98, 0.99, 1.0, 1.005, 1.01, 1.02, 1.03, 1.04, 1.05, 1.06, 1.07, 1.08, 1.09, 1.1, 1.12, 1.13, 1.14, 1.16, 1.17, 1.18, 1.2, 1.22, 1.23, 1.25, 1.27, 1.28, 1.3, 1.32, 1.34, 1.35, 1.37, 1.39, 1.41, 1.43, 1.45, 1.47, 1.48, 1.5, 1.52, 1.54, 1.56, 1.58, 1.61, 1.63, 1.65, 1.68, 1.71, 1.73, 1.8]],
  [9, [0.83, 0.84, 0.86, 0.87, 0.88, 0.89, 0.9, 0.91, 0.92, 0.93, 0.94, 0.945, 0.95, 0.96, 0.965, 0.97, 0.98, 0.99, 1.0, 1.01, 1.02, 1.03, 1.04, 1.05, 1.06, 1.07, 1.08, 1.1, 1.11, 1.13, 1.14, 1.16, 1.19, 1.21, 1.22, 1.24, 1.26, 1.28, 1.3, 1.31, 1.33, 1.35, 1.36, 1.38, 1.4, 1.42, 1.44, 1.47, 1.49, 1.51, 1.53, 1.55, 1.57, 1.6, 1.62, 1.64, 1.66, 1.68, 1.7, 1.78]],
  [8, [0.79, 0.83, 0.85, 0.86, 0.87, 0.88, 0.89, 0.9, 0.91, 0.92, 0.925, 0.93, 0.94, 0.945, 0.95, 0.96, 0.965, 0.97, 0.98, 0.99, 1.0, 1.01, 1.02, 1.03, 1.04, 1.05, 1.06, 1.07, 1.08, 1.09, 1.11, 1.12, 1.13, 1.15, 1.16, 1.18, 1.19, 1.23, 1.25, 1.27, 1.28, 1.3, 1.32, 1.34, 1.36, 1.38, 1.4, 1.42, 1.44, 1.46, 1.48, 1.5, 1.53, 1.55, 1.57, 1.59, 1.61, 1.65, 1.68, 1.77, 1.8]],
  [7, [0.86, 0.87, 0.88, 0.89, 0.9, 0.91, 0.92, 0.93, 0.94, 0.95, 0.96, 0.965, 0.97, 0.98, 0.99, 1.0, 1.01, 1.02, 1.03, 1.04, 1.05, 1.06, 1.08, 1.09, 1.11, 1.13, 1.15, 1.16, 1.18, 1.21, 1.22, 1.24, 1.26, 1.28, 1.3, 1.32, 1.35, 1.36, 1.37, 1.39, 1.41, 1.43, 1.45, 1.47, 1.49, 1.51, 1.54, 1.56, 1.58, 1.61, 1.63, 1.66, 1.68, 1.7, 1.71, 1.75]],
  [6, [0.8, 0.81, 0.83, 0.85, 0.86, 0.87, 0.88, 0.89, 0.9, 0.91, 0.92, 0.93, 0.94, 0.95, 0.96, 0.965, 0.97, 0.98, 0.99, 1.0, 1.01, 1.02, 1.03, 1.04, 1.06, 1.07, 1.09, 1.1, 1.12, 1.13, 1.15, 1.16, 1.18, 1.2, 1.21, 1.23, 1.25, 1.27, 1.29, 1.31, 1.34, 1.36, 1.38, 1.39, 1.41, 1.43, 1.45, 1.47, 1.49, 1.52, 1.53, 1.54, 1.56, 1.59, 1.61, 1.62, 1.63, 1.73, 1.76, 1.78]],
  [5, [0.89, 0.93, 0.97, 1.29, 1.36, 1.54, 1.61]],
  [4, [0.88, 0.91, 1.01]]
];
const dlmFit = [11.85, 11.88, 11.9, 11.85, 11.72, 11.56, 11.38, 11.18, 10.95, 10.72, 10.45];
const dlmSe = [0.15, 0.08, 0.06, 0.06, 0.08, 0.1, 0.13, 0.18, 0.25, 0.37, 0.52];
const dlmTicks = [5, 10, 15];

// ---- Digit Symbol Substitution: [SUVR, [scores]] ----
const dssPoints = [
  [0.78, [42, 39]], [0.79, [44, 40]], [0.80, [45, 41, 38, 51]], [0.81, [48, 43, 36]], [0.82, [49, 46, 40, 33]],
  [0.83, [53, 47, 42, 36, 30]], [0.84, [55, 50, 44, 39, 32, 21, 63]], [0.85, [52, 47, 41, 35, 30, 25]],
  [0.86, [58, 54, 49, 45, 40, 36, 33, 28, 62]], [0.87, [56, 52, 48, 44, 41, 38, 34, 29, 25]],
  [0.875, [57, 50, 43, 37, 31]],
  [0.88, [60, 55, 51, 47, 43, 39, 35, 31, 27, 23, 65]], [0.885, [53, 46, 41, 36, 28]],
  [0.89, [62, 57, 53, 49, 46, 42, 38, 34, 30, 26, 22]], [0.895, [59, 51, 44, 39, 32]],
  [0.90, [58, 54, 50, 47, 44, 41, 37, 33, 29, 24, 71]], [0.905, [56, 52, 45, 40, 35, 27]],
  [0.91, [62, 59, 55, 51, 48, 45, 42, 39, 36, 32, 28, 23]], [0.915, [60, 54, 49, 43, 38, 33, 26]],
  [0.92, [64, 60, 56, 53, 50, 46, 43, 40, 37, 34, 31, 27, 24]], [0.925, [62, 57, 51, 46, 41, 36, 30]],
  [0.93, [67, 61, 57, 54, 51, 48, 45, 42, 39, 35, 32, 29, 26, 22]], [0.935, [65, 59, 53, 49, 44, 38, 33, 28]],
  [0.94, [65, 60, 58, 55, 52, 49, 46, 43, 40, 37, 34, 31, 27, 24, 68]], [0.945, [63, 56, 51, 47, 42, 37, 32, 27]],
  [0.95, [63, 60, 57, 54, 51, 48, 45, 42, 39, 36, 33, 30, 27, 23, 70]], [0.955, [66, 61, 55, 50, 45, 40, 35, 29]],
  [0.96, [72, 66, 62, 59, 56, 53, 50, 47, 44, 41, 38, 35, 32, 29, 25, 19]], [0.965, [63, 58, 52, 48, 43, 38, 34, 30, 24]],
  [0.97, [64, 61, 58, 55, 52, 49, 46, 43, 40, 37, 34, 31, 28, 25, 22]], [0.975, [68, 60, 55, 50, 45, 41, 36, 32, 27]],
  [0.98, [69, 63, 60, 57, 54, 51, 48, 45, 42, 39, 36, 33, 30, 27, 24]], [0.985, [65, 59, 53, 49, 44, 39, 35, 31, 26]],
  [0.99, [67, 62, 59, 56, 53, 50, 47, 44, 41, 38, 35, 32, 29, 26]], [0.995, [62, 57, 52, 47, 43, 38, 34, 29]],
  [1.00, [66, 61, 58, 55, 52, 49, 46, 43, 40, 37, 34, 31, 28, 25]], [1.005, [64, 59, 54, 49, 45, 40, 36, 31, 27]],
  [1.01, [73, 64, 60, 56, 53, 50, 47, 44, 41, 38, 35, 32, 29, 22, 19]], [1.015, [61, 56, 51, 46, 42, 37, 33, 28]],
  [1.02, [67, 62, 57, 54, 51, 48, 45, 42, 39, 36, 33, 30, 27]], [1.025, [58, 53, 48, 44, 40, 35, 31]],
  [1.03, [63, 59, 55, 52, 49, 46, 43, 40, 37, 34, 31, 28]], [1.035, [60, 55, 50, 45, 41, 36, 30, 25]],
  [1.04, [65, 60, 56, 53, 50, 47, 44, 40, 38, 35, 32, 29, 24]], [1.045, [57, 52, 47, 42, 38, 33, 28]],
  [1.05, [71, 62, 58, 54, 51, 48, 45, 42, 39, 36, 33, 29, 26]], [1.055, [55, 49, 44, 40, 35, 30]],
  [1.06, [70, 61, 57, 53, 50, 46, 43, 41, 38, 34, 31, 27, 22]], [1.065, [59, 51, 46, 41, 37, 32]],
  [1.07, [65, 59, 55, 52, 49, 45, 42, 38, 35, 32, 28, 25]], [1.08, [67, 60, 56, 51, 47, 44, 40, 36, 33, 30, 26]],
  [1.085, [53, 45, 39, 34]],
  [1.09, [70, 62, 58, 53, 48, 44, 41, 37, 34, 29, 25]], [1.10, [66, 59, 55, 50, 46, 43, 39, 35, 31, 27]],
  [1.11, [57, 52, 47, 42, 38, 33, 21]], [1.12, [61, 54, 49, 45, 40, 36, 30]], [1.13, [58, 53, 47, 43, 38, 34, 28]],
  [1.14, [63, 55, 50, 44, 39, 33, 25]], [1.15, [57, 51, 46, 41, 36, 31]], [1.16, [61, 54, 48, 43, 37, 32, 26]],
  [1.17, [65, 56, 50, 45, 40, 35, 29]], [1.18, [59, 52, 47, 42, 36, 30]], [1.19, [55, 49, 44, 38, 33, 26]],
  [1.20, [70, 57, 51, 46, 40, 34, 28]], [1.21, [58, 48, 43, 37, 31]], [1.22, [53, 47, 41, 35, 24]],
  [1.23, [63, 55, 45, 38, 32, 27]], [1.24, [57, 50, 43, 36, 26]], [1.25, [60, 52, 46, 39, 30, 23]],
  [1.26, [56, 49, 42, 35, 28]], [1.27, [61, 53, 45, 38, 26]], [1.28, [69, 57, 48, 40, 33, 20]],
  [1.29, [55, 46, 42, 36, 29]], [1.30, [60, 52, 44, 37, 31]], [1.31, [65, 56, 47, 40, 34, 27]],
  [1.32, [58, 50, 43, 38, 28]], [1.33, [67, 54, 46, 41, 35, 30]], [1.34, [60, 52, 44, 37, 25]],
  [1.35, [65, 55, 47, 40, 34, 28]], [1.36, [58, 50, 43, 36, 29]], [1.37, [63, 53, 46, 39, 33]],
  [1.38, [56, 48, 42, 35, 27]], [1.39, [71, 67, 54, 45, 38, 23]], [1.40, [60, 50, 43, 36, 30, 22]],
  [1.41, [57, 48, 41, 34, 28]], [1.42, [55, 46, 39, 32]], [1.43, [65, 52, 44, 37, 27]], [1.44, [58, 47, 40, 33, 24]],
  [1.45, [54, 45, 38, 30, 18]], [1.46, [56, 48, 41, 35, 27]], [1.47, [52, 44, 37, 29, 25]], [1.48, [57, 46, 40, 32]],
  [1.49, [55, 47, 42, 36, 28]], [1.50, [68, 53, 45, 38, 31, 24]], [1.51, [57, 49, 41, 34]], [1.52, [63, 51, 44, 36, 29]],
  [1.53, [53, 46, 39, 30, 25]], [1.54, [56, 48, 42, 35, 27]], [1.55, [50, 43, 37, 31]], [1.56, [54, 47, 40, 33]],
  [1.57, [68, 64, 52, 44, 36, 29]], [1.58, [55, 47, 42, 34]], [1.59, [49, 43, 38, 31]], [1.60, [59, 51, 45, 39, 29, 24]],
  [1.61, [53, 44, 35, 21]], [1.62, [48, 41, 34, 30]], [1.63, [52, 45, 38]], [1.64, [43, 36, 32]], [1.65, [50, 46, 39, 33]],
  [1.66, [56, 49, 42, 36]], [1.67, [44, 38, 31]], [1.68, [50, 40, 28]], [1.69, [47, 37, 31, 20]], [1.70, [50, 43, 33]],
  [1.71, [45, 37, 26]], [1.73, [46, 39, 27, 63]], [1.74, [44, 35, 25]], [1.75, [40, 32, 28]], [1.77, [36, 28]],
  [1.78, [42, 34]], [1.79, [56, 40]], [1.80, [58, 37, 21]]
];
const dssFit = [44.2, 44.2, 44.15, 44.0, 43.75, 43.4, 43.0, 42.5, 41.8, 40.7, 39.3];
const dssSe = [0.55, 0.35, 0.25, 0.25, 0.3, 0.4, 0.5, 0.65, 0.9, 1.2, 1.5];
const dssTicks = [20, 30, 40, 50, 60, 70];

// ---- MMSE: [score, [SUVRs]] ----
const mmseRows = [
  [30, [0.79, 0.8, 0.82, 0.83, 0.84, 0.845, 0.85, 0.86, 0.865, 0.87, 0.88, 0.885, 0.89, 0.895, 0.9, 0.905, 0.91, 0.915, 0.92, 0.925, 0.93, 0.935, 0.94, 0.945, 0.95, 0.955, 0.96, 0.965, 0.97, 0.975, 0.98, 0.985, 0.99, 0.995, 1.0, 1.005, 1.01, 1.015, 1.02, 1.025, 1.03, 1.035, 1.04, 1.045, 1.05, 1.055, 1.06, 1.065, 1.07, 1.075, 1.08, 1.085, 1.09, 1.1, 1.11, 1.115, 1.12, 1.13, 1.14, 1.15, 1.16, 1.17, 1.18, 1.19, 1.2, 1.21, 1.22, 1.23, 1.24, 1.25, 1.26, 1.27, 1.28, 1.29, 1.3, 1.31, 1.32, 1.33, 1.34, 1.35, 1.36, 1.37, 1.38, 1.39, 1.4, 1.42, 1.43, 1.44, 1.46, 1.47, 1.48, 1.5, 1.51, 1.53, 1.54, 1.56, 1.58, 1.6, 1.61, 1.62, 1.65, 1.66, 1.68, 1.79]],
  [29, [0.78, 0.79, 0.8, 0.82, 0.83, 0.84, 0.85, 0.86, 0.87, 0.875, 0.88, 0.89, 0.895, 0.9, 0.905, 0.91, 0.915, 0.92, 0.925, 0.93, 0.935, 0.94, 0.945, 0.95, 0.955, 0.96, 0.965, 0.97, 0.975, 0.98, 0.985, 0.99, 0.995, 1.0, 1.005, 1.01, 1.02, 1.025, 1.03, 1.04, 1.045, 1.05, 1.06, 1.065, 1.07, 1.08, 1.09, 1.1, 1.11, 1.12, 1.13, 1.14, 1.15, 1.16, 1.17, 1.18, 1.19, 1.2, 1.21, 1.22, 1.23, 1.24, 1.25, 1.26, 1.28, 1.29, 1.3, 1.31, 1.32, 1.33, 1.34, 1.35, 1.36, 1.37, 1.38, 1.39, 1.4, 1.41, 1.42, 1.43, 1.44, 1.45, 1.46, 1.47, 1.48, 1.49, 1.5, 1.51, 1.52, 1.53, 1.55, 1.57, 1.58, 1.6, 1.62, 1.63, 1.65, 1.66, 1.68, 1.69, 1.71, 1.72, 1.74, 1.76, 1.78, 1.8]],
  [28, [0.78, 0.8, 0.82, 0.84, 0.85, 0.86, 0.865, 0.87, 0.875, 0.88, 0.885, 0.89, 0.895, 0.9, 0.905, 0.91, 0.915, 0.92, 0.925, 0.93, 0.935, 0.94, 0.945, 0.95, 0.955, 0.96, 0.965, 0.97, 0.975, 0.98, 0.985, 0.99, 0.995, 1.0, 1.005, 1.01, 1.015, 1.02, 1.025, 1.03, 1.035, 1.04, 1.045, 1.05, 1.055, 1.06, 1.07, 1.08, 1.09, 1.1, 1.11, 1.12, 1.13, 1.14, 1.15, 1.16, 1.17, 1.18, 1.19, 1.2, 1.21, 1.22, 1.23, 1.24, 1.25, 1.26, 1.27, 1.28, 1.3, 1.31, 1.32, 1.33, 1.34, 1.35, 1.36, 1.37, 1.38, 1.4, 1.41, 1.42, 1.44, 1.45, 1.46, 1.48, 1.49, 1.5, 1.51, 1.53, 1.55, 1.57, 1.58, 1.59, 1.61, 1.64, 1.67, 1.69, 1.74, 1.75, 1.79, 1.8]],
  [27, [0.8, 0.82, 0.83, 0.84, 0.85, 0.86, 0.87, 0.88, 0.89, 0.895, 0.9, 0.905, 0.91, 0.915, 0.92, 0.925, 0.93, 0.935, 0.94, 0.945, 0.95, 0.955, 0.96, 0.965, 0.97, 0.975, 0.98, 0.985, 0.99, 0.995, 1.0, 1.005, 1.01, 1.02, 1.03, 1.04, 1.05, 1.06, 1.07, 1.08, 1.09, 1.1, 1.11, 1.12, 1.13, 1.14, 1.15, 1.16, 1.17, 1.18, 1.19, 1.2, 1.21, 1.22, 1.23, 1.24, 1.26, 1.27, 1.28, 1.3, 1.31, 1.32, 1.33, 1.34, 1.36, 1.38, 1.39, 1.4, 1.42, 1.43, 1.45, 1.46, 1.47, 1.48, 1.5, 1.51, 1.53, 1.55, 1.57, 1.58, 1.6, 1.61, 1.63, 1.66, 1.68, 1.75, 1.78, 1.8]],
  [26, [0.84, 0.85, 0.86, 0.87, 0.88, 0.89, 0.9, 0.91, 0.92, 0.93, 0.94, 0.95, 0.955, 0.96, 0.965, 0.97, 0.98, 0.99, 1.0, 1.005, 1.01, 1.02, 1.03, 1.04, 1.05, 1.06, 1.07, 1.08, 1.1, 1.11, 1.12, 1.13, 1.14, 1.16, 1.17, 1.18, 1.2, 1.21, 1.22, 1.24, 1.26, 1.27, 1.28, 1.29, 1.31, 1.34, 1.39, 1.4, 1.41, 1.42, 1.44, 1.45, 1.47, 1.48, 1.5, 1.51, 1.53, 1.54, 1.57, 1.58, 1.6, 1.61, 1.63]],
  [25, [0.8, 0.88, 0.9, 0.91, 0.92, 0.94, 0.97, 0.975, 0.98, 0.99, 1.0, 1.01, 1.02, 1.03, 1.04, 1.05, 1.06, 1.1, 1.12, 1.14, 1.16, 1.18, 1.19, 1.21, 1.22, 1.24, 1.27, 1.32, 1.35, 1.36, 1.37, 1.38, 1.39, 1.41, 1.43, 1.45, 1.52, 1.53, 1.55, 1.6, 1.66, 1.7, 1.73]]
];
const mmseFit = [28.83, 28.83, 28.83, 28.81, 28.79, 28.76, 28.71, 28.66, 28.59, 28.5, 28.4];
const mmseSe = [0.095, 0.05, 0.03, 0.03, 0.035, 0.045, 0.06, 0.08, 0.12, 0.17, 0.23];
const mmseTicks = [25, 26, 27, 28, 29, 30];

// flatten helpers
const fromColumns = cols => cols.flatMap(([x, ys]) => ys.map(y => ({ x, y })));
const fromRows = rows => rows.flatMap(([y, xs]) => xs.map(x => ({ x, y })));

const panels = [
  { title: titles[0], points: fromColumns(paccPoints), fit: paccFit, se: paccSe, ticks: paccTicks, yDomain: [-4.25, 2.75], color: "#ff7300" },
  { title: titles[1], points: fromRows(fcsrt96Rows), fit: fcsrt96Fit, se: fcsrt96Se, ticks: fcsrt96Ticks, yDomain: [53.47, 93.55], color: "#2d64c4" },
  { title: titles[2], points: fromRows(freeRecallRows), fit: freeRecallFit, se: freeRecallSe, ticks: freeRecallTicks, yDomain: [11.81, 44.21], color: "#0000f2" },
  { title: titles[3], points: fromRows(dlmRows), fit: dlmFit, se: dlmSe, ticks: dlmTicks, yDomain: [3.366, 19.6], color: "#ff3399" },
  { title: titles[4], points: fromColumns(dssPoints), fit: dssFit, se: dssSe, ticks: dssTicks, yDomain: [17.84, 74.16], color: "#ff0000" },
  { title: titles[5], points: fromRows(mmseRows), fit: mmseFit, se: mmseSe, ticks: mmseTicks, yDomain: [24.8, 30.2], color: "#40008c" }
];

const width = 1266;
const height = 840;
const colLeft = [81.7, 500, 918.3];
const rowTop = [37.3, 444];
const pw = 350;
const ph = 321;

const svg = d3.select("#chart")
  .append("svg")
  .attr("width", width)
  .attr("height", height);

panels.forEach((p, i) => {
  const col = i % 3;
  const row = Math.floor(i / 3);
  const left = colLeft[col];
  const top = rowTop[row];

  const x = d3.scaleLinear().domain([0.7397, 1.8508]).range([left, left + pw]);
  const y = d3.scaleLinear().domain(p.yDomain).range([top + ph, top]);

  const g = svg.append("g");

  // gray panel
  g.append("rect")
    .attr("x", left).attr("y", top)
    .attr("width", pw).attr("height", ph)
    .attr("fill", "#ebebeb");

  // white grid lines at ticks
  g.selectAll("line.gx")
    .data(xTicks)
    .join("line")
    .attr("x1", d => x(d)).attr("x2", d => x(d))
    .attr("y1", top).attr("y2", top + ph)
    .attr("stroke", "#fff").attr("stroke-width", 1);

  g.selectAll("line.gy")
    .data(p.ticks)
    .join("line")
    .attr("x1", left).attr("x2", left + pw)
    .attr("y1", d => y(d)).attr("y2", d => y(d))
    .attr("stroke", "#fff").attr("stroke-width", 1);

  const clipId = "clip" + i;
  svg.append("clipPath").attr("id", clipId)
    .append("rect")
    .attr("x", left).attr("y", top)
    .attr("width", pw).attr("height", ph);

  const plot = g.append("g").attr("clip-path", `url(#${clipId})`);

  // open circles
  plot.selectAll("circle")
    .data(p.points)
    .join("circle")
    .attr("cx", d => x(d.x))
    .attr("cy", d => y(d.y))
    .attr("r", 3.5)
    .attr("fill", "none")
    .attr("stroke", "#000")
    .attr("stroke-opacity", 0.27)
    .attr("stroke-width", 1);

  // dotted line at SUVR 1.1 up to the fitted value
  const cutFit = p.fit[fitX.indexOf(cutoff)];
  plot.append("line")
    .attr("x1", x(cutoff)).attr("x2", x(cutoff))
    .attr("y1", top + ph - 3).attr("y2", y(cutFit))
    .attr("stroke", "#000")
    .attr("stroke-width", 1.3)
    .attr("stroke-dasharray", "1.6,2.2");

  const fitData = fitX.map((v, k) => ({ x: v, fit: p.fit[k], se: p.se[k] }));

  // confidence band
  plot.append("path")
    .datum(fitData)
    .attr("fill", p.color)
    .attr("fill-opacity", 0.35)
    .attr("d", d3.area()
      .x(d => x(d.x))
      .y0(d => y(d.fit - d.se))
      .y1(d => y(d.fit + d.se))
      .curve(d3.curveMonotoneX));

  // fitted curve
  plot.append("path")
    .datum(fitData)
    .attr("fill", "none")
    .attr("stroke", p.color)
    .attr("stroke-width", 4)
    .attr("d", d3.line()
      .x(d => x(d.x))
      .y(d => y(d.fit))
      .curve(d3.curveMonotoneX));

  // x axis
  const xAxis = g.append("g")
    .attr("transform", `translate(0,${top + ph + 1})`)
    .call(d3.axisBottom(x).tickValues(xTicks).tickSize(8).tickSizeOuter(0).tickPadding(8).tickFormat(d3.format(".1f")));
  xAxis.select(".domain").remove();
  xAxis.append("line")
    .attr("x1", x(xTicks[0])).attr("x2", x(xTicks[xTicks.length - 1]))
    .attr("stroke", "#222");
  xAxis.selectAll(".tick line").attr("stroke", "#222");
  xAxis.selectAll(".tick text").attr("font-size", 14).attr("fill", "#111").attr("font-family", "Liberation Sans, Arial, sans-serif");

  // y axis
  const yAxis = g.append("g")
    .attr("transform", `translate(${left},0)`)
    .call(d3.axisLeft(y).tickValues(p.ticks).tickSize(9).tickSizeOuter(0).tickPadding(8).tickFormat(d3.format("d")));
  yAxis.select(".domain").remove();
  yAxis.append("line")
    .attr("y1", y(p.ticks[0])).attr("y2", y(p.ticks[p.ticks.length - 1]))
    .attr("stroke", "#222");
  yAxis.selectAll(".tick line").attr("stroke", "#222");
  yAxis.selectAll(".tick text").attr("font-size", 14).attr("fill", "#111").attr("font-family", "Liberation Sans, Arial, sans-serif");

  // title
  g.append("text")
    .attr("x", left + pw / 2)
    .attr("y", top - 10)
    .attr("text-anchor", "middle")
    .attr("font-size", 19)
    .attr("fill", "#000")
    .text(p.title);

  if (col === 0) {
    g.append("text")
      .attr("transform", `translate(27,${top + ph / 2}) rotate(-90)`)
      .attr("text-anchor", "middle")
      .attr("font-size", 21)
      .attr("fill", "#000")
      .text("Cognitive Score");
  }

  if (row === 1) {
    g.append("text")
      .attr("x", left + pw / 2)
      .attr("y", 834)
      .attr("text-anchor", "middle")
      .attr("font-size", 19.3)
      .attr("fill", "#000")
      .text("18F-florbetapir PET SUVR");
  }
});
</script>
</body>
</html>
